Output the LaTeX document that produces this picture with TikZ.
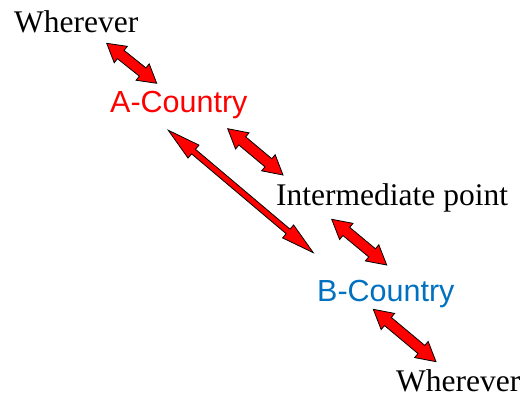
\documentclass[tikz,border=0pt]{standalone}
\usepackage{fontspec}
\setmainfont{Liberation Serif}
\setsansfont{Liberation Sans}
\usetikzlibrary{calc}
\definecolor{ared}{RGB}{255,0,0}
\definecolor{bblue}{RGB}{0,112,192}
\tikzset{
  serif label/.style={anchor=base west, inner sep=0pt, font=\fontsize{31.5}{36}\selectfont},
  sans label/.style={anchor=base west, inner sep=0pt, font=\sffamily\fontsize{30.5}{35}\selectfont},
  fat arrow/.style={fill=ared, draw=black, line width=0.8pt, line join=miter}
}
% #1 from, #2 to, #3 half shaft width, #4 half head width, #5 head length
\newcommand\dblfatarrow[5]{%
  \filldraw[fat arrow] let \p1=(#1), \p2=(#2), \p3=($(\p2)-(\p1)$),
    \n1={veclen(\x3,\y3)}, \n2={#5/\n1}, \n3={#4/\n1}, \n4={#3/\n1} in
    (\p1)
    -- ($(\p1)+\n2*(\p3)+\n3*({-(\y3)},{\x3})$)
    -- ($(\p1)+\n2*(\p3)+\n4*({-(\y3)},{\x3})$)
    -- ($(\p2)-\n2*(\p3)+\n4*({-(\y3)},{\x3})$)
    -- ($(\p2)-\n2*(\p3)+\n3*({-(\y3)},{\x3})$)
    -- (\p2)
    -- ($(\p2)-\n2*(\p3)-\n3*({-(\y3)},{\x3})$)
    -- ($(\p2)-\n2*(\p3)-\n4*({-(\y3)},{\x3})$)
    -- ($(\p1)+\n2*(\p3)-\n4*({-(\y3)},{\x3})$)
    -- ($(\p1)+\n2*(\p3)-\n3*({-(\y3)},{\x3})$)
    -- cycle;}
\begin{document}
\begin{tikzpicture}[x=1pt,y=-1pt]
\useasboundingbox (0,0) rectangle (527,398);
\node[serif label] (w1) at (14,33) {Wherever};
\node[sans label, text=ared] (ac) at (110,113) {A-Country};
\node[serif label] (ip) at (276,205) {Intermediate point};
\node[sans label, text=bblue] (bc) at (317,301) {B-Country};
\node[serif label, text depth=0pt] (w2) at (396,391) {Wherever};
% arrow end points
\coordinate (a1s) at (106.7,43.3);  \coordinate (a1e) at (156.7,83.3);
\coordinate (a2s) at (227.7,128.7); \coordinate (a2e) at (283,175);
\coordinate (a3s) at (168.3,130.3); \coordinate (a3e) at (313.3,252.7);
\coordinate (a4s) at (331.7,219.3); \coordinate (a4e) at (386.7,265);
\coordinate (a5s) at (373.3,309.3); \coordinate (a5e) at (436,361.7);
\dblfatarrow{a1s}{a1e}{5.3}{10.5}{18}
\dblfatarrow{a2s}{a2e}{5.3}{10.5}{19}
\dblfatarrow{a3s}{a3e}{3}{8.5}{33}
\dblfatarrow{a4s}{a4e}{5.3}{10.5}{19}
\dblfatarrow{a5s}{a5e}{5.3}{10.5}{19}
\end{tikzpicture}
\end{document}
